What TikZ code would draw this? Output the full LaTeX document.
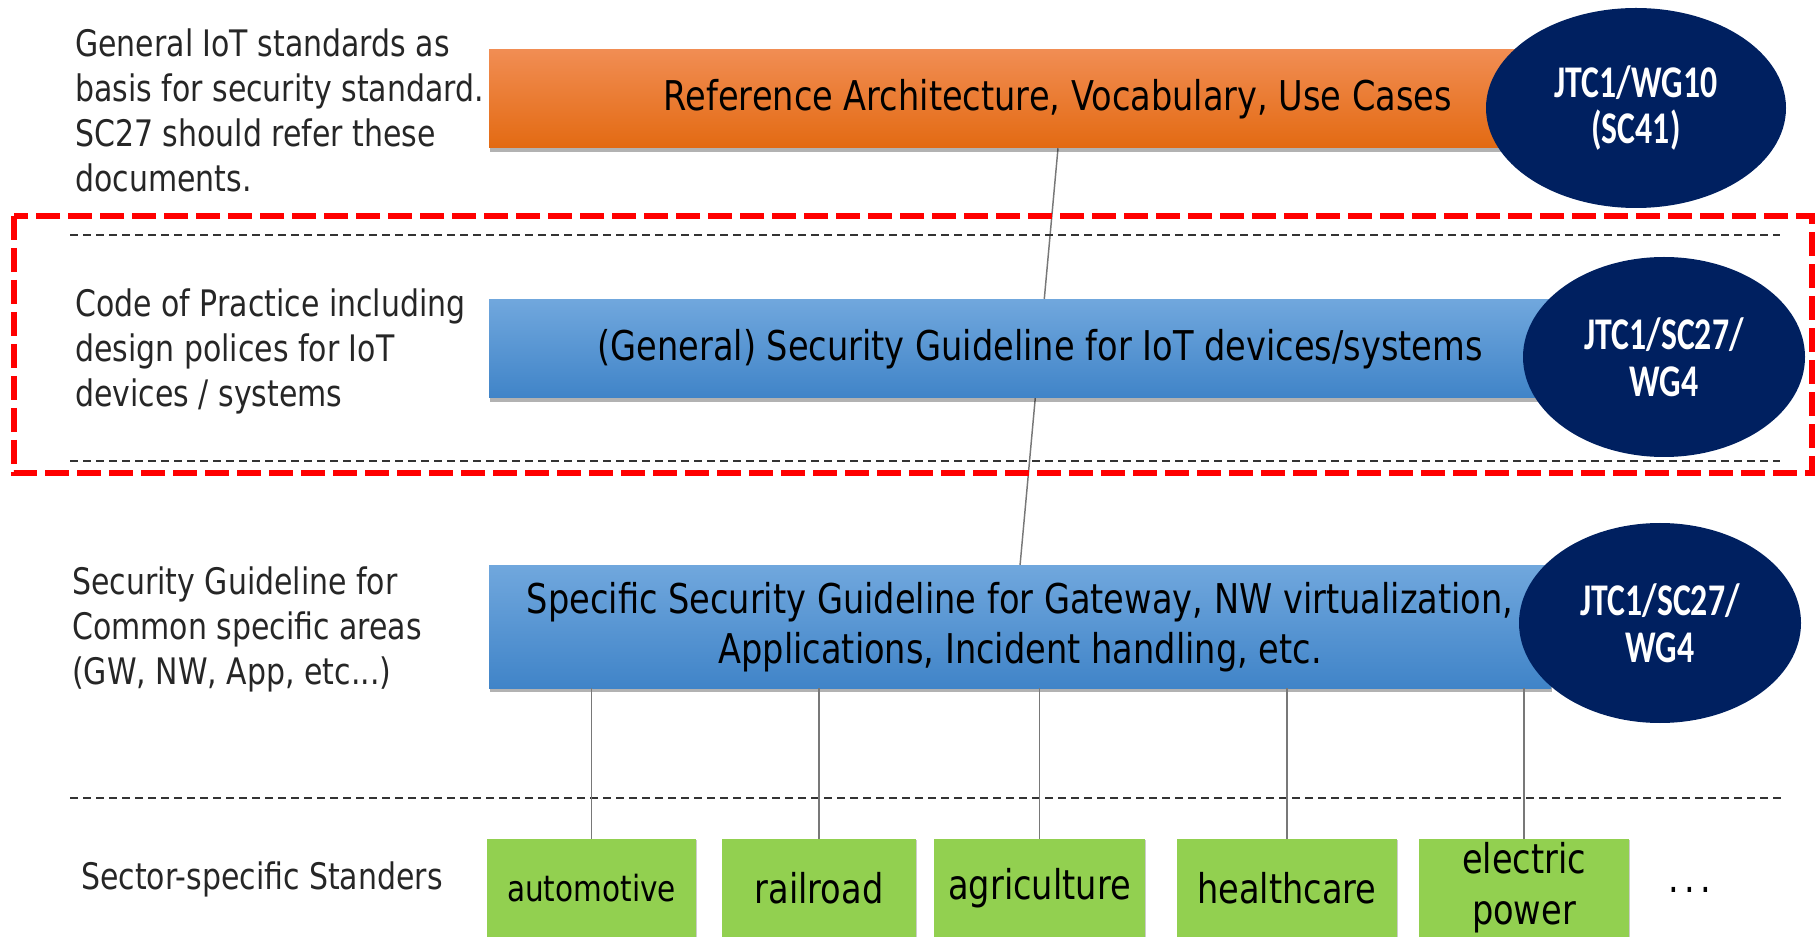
\documentclass[tikz,border=0pt]{standalone}
\usepackage{fontspec}
\setmainfont{DejaVu Sans}[FakeStretch=0.82]
\newfontfamily\ellfont{Carlito}[FakeStretch=0.745]
\usetikzlibrary{shapes.geometric,shadows,backgrounds}
\definecolor{orTop}{RGB}{241,141,83}
\definecolor{orBot}{RGB}{227,106,18}
\definecolor{blTop}{RGB}{112,167,221}
\definecolor{blBot}{RGB}{64,132,200}
\definecolor{navy}{RGB}{0,32,96}
\definecolor{grn}{RGB}{146,208,80}
\definecolor{txtgray}{RGB}{38,38,38}
\definecolor{linkgray}{RGB}{120,120,120}
\begin{document}
\begin{tikzpicture}[x=0.75pt,y=-0.75pt,
  lefttext/.style={anchor=west, align=left, inner sep=0pt, text=txtgray,
    font=\fontsize{27.4}{33.75}\selectfont},
  bar/.style={rectangle, inner sep=0pt, align=center, text=black,
    font=\fontsize{30.75}{37.5}\selectfont,
    drop shadow={shadow xshift=0.5pt, shadow yshift=-3pt, opacity=0.3, fill=black}},
  orangebar/.style={bar, top color=orTop, bottom color=orBot},
  bluebar/.style={bar, top color=blTop, bottom color=blBot},
  org/.style={ellipse, fill=navy, text=white, inner sep=0pt, align=center,
    font=\ellfont\bfseries\fontsize{34}{35}\selectfont},
  sector/.style={rectangle, fill=grn, inner sep=0pt, minimum height=73.5pt,
    align=center, text=black, font=\fontsize{30.75}{38}\selectfont,
    drop shadow={shadow xshift=1pt, shadow yshift=-1pt, opacity=0.2, fill=black}},
  link/.style={draw=linkgray, line width=1.1pt},
  sepline/.style={draw=black!80, line width=1.5pt, dash pattern=on 6pt off 3.75pt},
  redbox/.style={draw=red, line width=4.5pt, dash pattern=on 18pt off 6pt}
]
\useasboundingbox (0,0) rectangle (1818,937);

% separators and highlight box
\draw[sepline] (70,235) -- (1780,235);
\draw[sepline] (70,461) -- (1780,461);
\draw[sepline] (70,798) -- (1785,798);
\draw[redbox] (14,216) rectangle (1812,473);

% left descriptions
\node[lefttext] (d1) at (75,110) {General IoT standards as\\basis for security standard.\\SC27 should refer these\\documents.};
\node[lefttext] (d2) at (75,351) {Code of Practice including\\design polices for IoT\\devices / systems};
\node[lefttext] (d3) at (72,629) {Security Guideline for\\Common specific areas\\(GW, NW, App, etc...)};
\node[lefttext] (d4) at (81,879) {Sector-specific Standers};

% bars
\node[orangebar, minimum width=853.5pt, minimum height=73.5pt] (orange) at (1058,99)
  {Reference Architecture, Vocabulary, Use Cases};
\node[bluebar, minimum width=826.5pt, minimum height=73.5pt] (blue2) at (1040,349)
  {(General) Security Guideline for IoT devices/systems};
\node[bluebar, minimum width=796.5pt, minimum height=91.5pt] (blue3) at (1020,627)
  {Specific Security Guideline for Gateway, NW virtualization,\\Applications, Incident handling, etc.};

% organisations
\node[org, minimum width=225pt, minimum height=150pt] (e1) at (1636,108) {JTC1/WG10\\(SC41)};
\node[org, minimum width=211.5pt, minimum height=150pt] (e2) at (1664,357) {JTC1/SC27/\\WG4};
\node[org, minimum width=211.5pt, minimum height=150pt] (e3) at (1660,623) {JTC1/SC27/\\WG4};

% sector boxes
\node[sector, minimum width=156.75pt, font=\fontsize{27}{38}\selectfont] (g1) at (591.5,888) {automotive};
\node[sector, minimum width=145.5pt] (g2) at (819,888) {railroad};
\node[sector, minimum width=158.25pt] (g3) at (1039.5,888) {agriculture};
\node[sector, minimum width=165pt] (g4) at (1287,888) {healthcare};
\node[sector, minimum width=157.5pt] (g5) at (1524,888) {electric\\power};
\node[inner sep=0pt, text=black, font=\fontsize{30.75}{38}\selectfont] (more) at (1690,890) {.\kern4pt.\kern4pt.};

% connectors
\begin{scope}[on background layer]
\draw[link] (orange.south) -- (blue3.north);
\end{scope}
\foreach \g in {g1,g2,g3,g4,g5}{
  \draw[link] (\g.north) -- (\g.north |- blue3.south);
}
\end{tikzpicture}
\end{document}
